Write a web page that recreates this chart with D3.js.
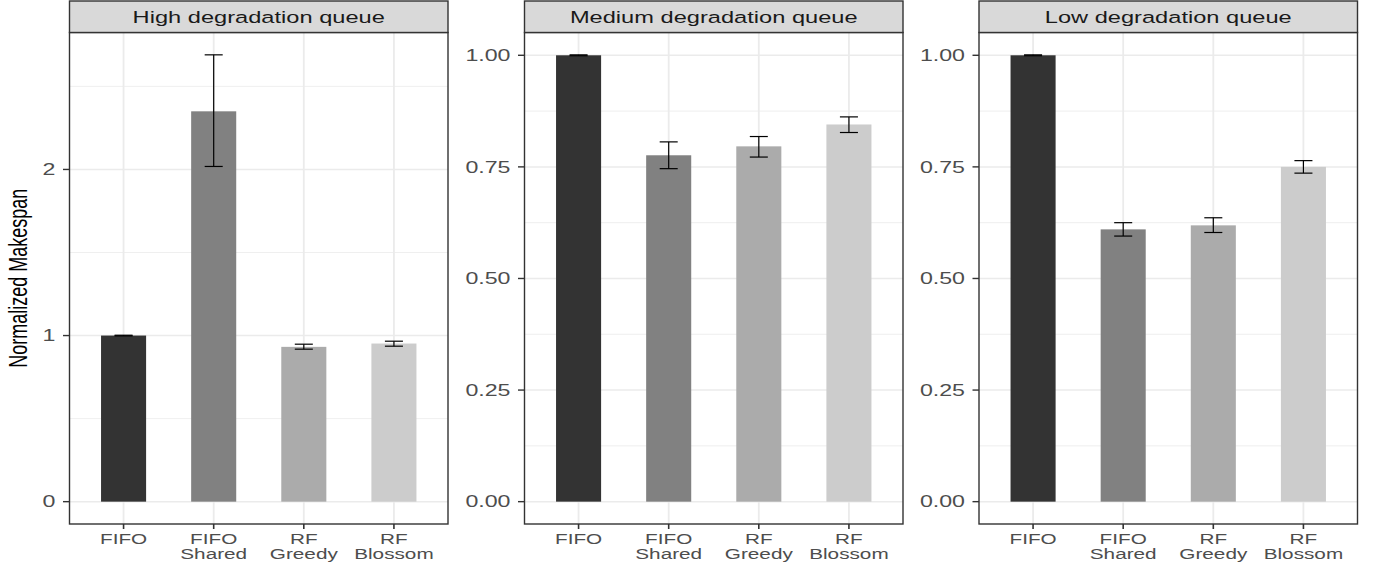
<!DOCTYPE html>
<html>
<head>
<meta charset="utf-8">
<script src="https://cdn.jsdelivr.net/npm/d3@7"></script>
<style>
  body { margin: 0; background: #fff; }
  svg { display: block; font-family: "Liberation Sans", Arial, Helvetica, sans-serif; }
</style>
</head>
<body>
<script>
// categories and values
const categories = [["FIFO"], ["FIFO", "Shared"], ["RF", "Greedy"], ["RF", "Blossom"]];
const panelTitles = ["High degradation queue", "Medium degradation queue", "Low degradation queue"];
const fills = ["#333333", "#818181", "#ABABAB", "#CCCCCC"];

const highMean = [1.0, 2.35, 0.932, 0.952];
const highLo   = [0.998, 2.018, 0.918, 0.936];
const highHi   = [1.002, 2.69, 0.948, 0.966];

const medMean = [1.0, 0.776, 0.796, 0.845];
const medLo   = [0.999, 0.746, 0.772, 0.827];
const medHi   = [1.001, 0.806, 0.818, 0.862];

const lowMean = [1.0, 0.610, 0.619, 0.750];
const lowLo   = [0.999, 0.595, 0.603, 0.736];
const lowHi   = [1.001, 0.625, 0.636, 0.764];

const yTicksHigh = [0, 1, 2];
const yTicksLow = [0, 0.25, 0.5, 0.75, 1.0];

const W = 1374, H = 567;
const SX = 1.45;          // the picture is stretched sideways, text included
const panelLeft = [69.5, 524.5, 979];
const panelW = 378.5;
const stripTop = 1, plotTop = 32.5, plotBottom = 524;

const svg = d3.select("body").append("svg")
  .attr("width", W)
  .attr("height", H);

function stretchedText(g, x, y, str, size, anchor, color) {
  return g.append("text")
    .attr("transform", `translate(${x},${y}) scale(${SX},1)`)
    .attr("text-anchor", anchor)
    .attr("font-size", size)
    .attr("fill", color)
    .text(str);
}

const panels = [
  { mean: highMean, lo: highLo, hi: highHi, ticks: yTicksHigh, fmt: d3.format("d") },
  { mean: medMean, lo: medLo, hi: medHi, ticks: yTicksLow, fmt: d3.format(".2f") },
  { mean: lowMean, lo: lowLo, hi: lowHi, ticks: yTicksLow, fmt: d3.format(".2f") }
];

panels.forEach((p, i) => {
  const x0 = panelLeft[i], x1 = x0 + panelW;
  const g = svg.append("g");

  const x = d3.scalePoint()
    .domain(d3.range(categories.length))
    .range([x0, x1])
    .padding(0.6);
  const step = x.step();

  const yMax = d3.max(p.hi);
  const pad = yMax * 0.05;
  const y = d3.scaleLinear()
    .domain([-pad, yMax + pad])
    .range([plotBottom, plotTop]);

  // minor grid
  const minor = [];
  for (let k = 0; k < p.ticks.length - 1; k++) minor.push((p.ticks[k] + p.ticks[k + 1]) / 2);
  const tstep = p.ticks[1] - p.ticks[0];
  if (p.ticks[p.ticks.length - 1] + tstep / 2 < yMax + pad) minor.push(p.ticks[p.ticks.length - 1] + tstep / 2);
  g.selectAll(".minor").data(minor).enter().append("line")
    .attr("x1", x0).attr("x2", x1)
    .attr("y1", d => y(d)).attr("y2", d => y(d))
    .attr("stroke", "#EBEBEB").attr("stroke-width", 0.8);

  // major grid
  g.selectAll(".majory").data(p.ticks).enter().append("line")
    .attr("x1", x0).attr("x2", x1)
    .attr("y1", d => y(d)).attr("y2", d => y(d))
    .attr("stroke", "#EBEBEB").attr("stroke-width", 1.5);
  g.selectAll(".majorx").data(d3.range(categories.length)).enter().append("line")
    .attr("x1", d => x(d)).attr("x2", d => x(d))
    .attr("y1", plotTop).attr("y2", plotBottom)
    .attr("stroke", "#EBEBEB").attr("stroke-width", 1.8);

  // bars
  g.selectAll(".bar").data(p.mean).enter().append("rect")
    .attr("x", (d, j) => x(j) - step * 0.25)
    .attr("width", step * 0.5)
    .attr("y", d => y(d))
    .attr("height", d => y(0) - y(d))
    .attr("fill", (d, j) => fills[j]);

  // error bars
  const eb = g.selectAll(".err").data(p.mean).enter().append("g");
  eb.append("line")
    .attr("x1", (d, j) => x(j)).attr("x2", (d, j) => x(j))
    .attr("y1", (d, j) => y(p.lo[j])).attr("y2", (d, j) => y(p.hi[j]));
  eb.append("line")
    .attr("x1", (d, j) => x(j) - step * 0.1).attr("x2", (d, j) => x(j) + step * 0.1)
    .attr("y1", (d, j) => y(p.lo[j])).attr("y2", (d, j) => y(p.lo[j]));
  eb.append("line")
    .attr("x1", (d, j) => x(j) - step * 0.1).attr("x2", (d, j) => x(j) + step * 0.1)
    .attr("y1", (d, j) => y(p.hi[j])).attr("y2", (d, j) => y(p.hi[j]));
  eb.selectAll("line").attr("stroke", "#000").attr("stroke-width", 1.2);

  // panel border
  g.append("rect")
    .attr("x", x0).attr("y", plotTop)
    .attr("width", panelW).attr("height", plotBottom - plotTop)
    .attr("fill", "none").attr("stroke", "#333333").attr("stroke-width", 1.4);

  // strip
  g.append("rect")
    .attr("x", x0).attr("y", stripTop)
    .attr("width", panelW).attr("height", plotTop - stripTop)
    .attr("fill", "#D9D9D9").attr("stroke", "#333333").attr("stroke-width", 1.4);
  stretchedText(g, (x0 + x1) / 2, 22.6, panelTitles[i], 16.3, "middle", "#1A1A1A");

  // y axis
  p.ticks.forEach(t => {
    g.append("line")
      .attr("x1", x0 - 6.5).attr("x2", x0)
      .attr("y1", y(t)).attr("y2", y(t))
      .attr("stroke", "#333333").attr("stroke-width", 1.4);
    stretchedText(g, x0 - 14, y(t) + 5.8, p.fmt(t), 16, "end", "#4D4D4D");
  });

  // x axis
  categories.forEach((c, j) => {
    g.append("line")
      .attr("x1", x(j)).attr("x2", x(j))
      .attr("y1", plotBottom).attr("y2", plotBottom + 5)
      .attr("stroke", "#333333").attr("stroke-width", 1.6);
    c.forEach((line, k) => {
      stretchedText(g, x(j), 544.3 + k * 15, line, 14.3, "middle", "#4D4D4D");
    });
  });
});

// y axis title
svg.append("text")
  .attr("transform", `translate(26.5,${(plotTop + plotBottom) / 2}) scale(${SX},1) rotate(-90)`)
  .attr("text-anchor", "middle")
  .attr("font-size", 18)
  .attr("fill", "#000")
  .text("Normalized Makespan");
</script>
</body>
</html>
